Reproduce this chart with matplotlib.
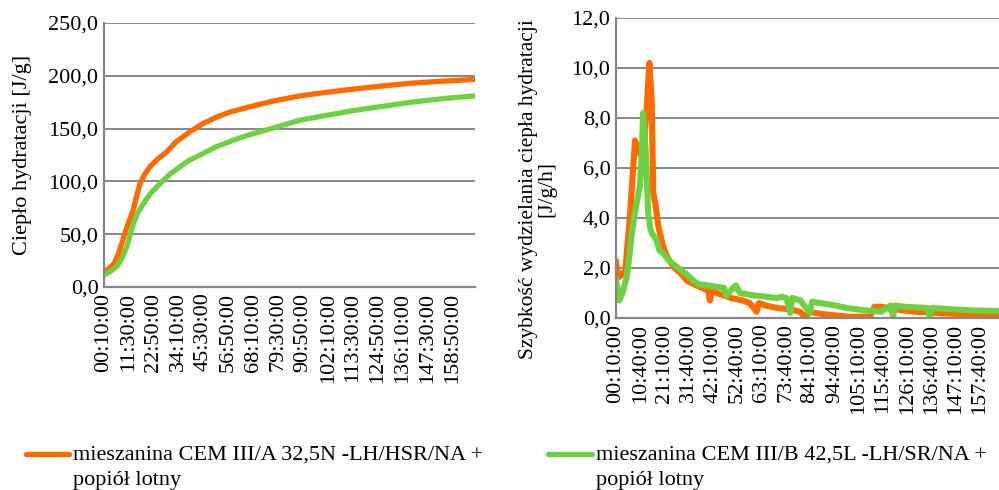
import matplotlib
matplotlib.use("Agg")
import matplotlib.pyplot as plt
from matplotlib.lines import Line2D
from matplotlib.ticker import FuncFormatter

plt.rcParams['font.family'] = ['Liberation Serif', 'DejaVu Serif']

ORANGE = '#FF6A00'
GREEN = '#6DD142'
GRID = '#878787'

label_a = "mieszanina CEM III/A 32,5N -LH/HSR/NA +\npopiół lotny"
label_b = "mieszanina CEM III/B 42,5L -LH/SR/NA +\npopiół lotny"

# Cumulative heat of hydration [J/g] vs time [h]
heat_t_a = [0.17, 2, 4, 5.2, 7, 8.5, 9.7, 11.5, 13.5, 15, 16.6, 18.5, 21.1, 24.5, 28.7, 33,
            39.3, 45, 51.5, 58, 66.6, 77, 89.4, 100, 112, 125, 140, 155, 169]
heat_a = [14.5, 17, 20.5, 24, 33, 43, 51, 62, 73, 86, 98, 106, 114, 121, 128, 137.5,
          147, 154.5, 161, 166, 170.7, 176, 181, 184, 187, 190, 193, 195, 196.6]
heat_t_b = [0.17, 3, 5.9, 8, 9.5, 10.5, 12, 13.5, 15.5, 18.1, 21.5, 25.7, 30, 34.8, 39,
            43.9, 51, 59, 66, 74, 82, 89.4, 100, 112, 125, 140, 155, 169]
heat_b = [11.4, 14.5, 19.2, 26, 33, 38, 49, 60, 70, 79, 89, 98, 106.5, 114, 120,
          125, 132.5, 139, 144, 148.7, 153.5, 158, 162, 166.5, 170.5, 175, 178.5, 181]

# Rate of heat release [J/g/h] vs time [h]
rate_t_a = [0.17, 0.8, 1.8, 3, 4.1, 5, 6.2, 7.3, 8.4, 9.1, 9.8, 11.3, 12.3, 13.4, 14.6, 15.6,
            16.3, 17.3, 18.5, 20.6, 22, 25, 28, 30.8, 35, 40, 40.8, 41.6, 43.7, 50, 55, 58, 61,
            62, 65, 70, 75, 79.8, 82.6, 83.4, 90, 101, 110, 112, 115, 120, 130, 140, 150, 160, 166]
rate_a = [2.25, 1.7, 1.65, 1.8, 1.8, 2.8, 4.05, 5.6, 7.1, 6.9, 6.7, 6.45, 7.0, 8.3, 10.2, 8.7,
          5.0, 4.5, 3.65, 2.85, 2.5, 2.05, 1.8, 1.5, 1.3, 1.1, 0.7, 1.1, 1.0, 0.8, 0.7, 0.6, 0.25,
          0.6, 0.5, 0.4, 0.35, 0.25, 0.0, 0.25, 0.15, 0.05, 0.05, 0.45, 0.45, 0.35, 0.25, 0.2,
          0.15, 0.1, 0.08]
rate_t_b = [0.17, 0.8, 1.6, 3, 4.8, 6, 7, 8, 9.1, 10.5, 11.3, 11.9, 12.5, 13, 14.1, 15, 15.6,
            17.8, 19, 20.6, 23, 26.4, 30, 33.6, 36, 43.7, 47, 48, 50.8, 52, 53.8, 60, 65, 69.7,
            72, 74, 75.5, 76.5, 80, 84, 85, 94, 100, 108.6, 115, 119, 120, 121, 125, 135, 136,
            137, 145, 155, 166]
rate_b = [1.5, 1.2, 0.7, 1.0, 1.65, 2.5, 3.4, 4.0, 4.6, 5.25, 6.5, 8.2, 7.5, 6.7, 4.2, 3.6, 3.4,
          3.1, 2.7, 2.6, 2.3, 2.05, 1.8, 1.5, 1.35, 1.25, 1.2, 0.9, 1.2, 1.3, 1.0, 0.9, 0.85, 0.8,
          0.85, 0.79, 0.2, 0.8, 0.7, 0.2, 0.65, 0.52, 0.4, 0.3, 0.25, 0.5, 0.05, 0.5, 0.45, 0.4,
          0.05, 0.4, 0.35, 0.3, 0.28]

# time tick labels (first sample at 00:10:00, step in minutes)
heat_tick_step = 680
rate_tick_step = 630
heat_tick_count = 15
rate_tick_count = 16


def hms(minutes):
    h, m = divmod(int(round(minutes)), 60)
    return f"{h:02d}:{m:02d}:00"


def comma(v, _):
    return f"{v:.1f}".replace('.', ',')


fig = plt.figure(figsize=(9.99, 4.90), dpi=100)
ax1 = fig.add_axes([104 / 999, 1 - 287 / 490, (475 - 104) / 999, (287 - 23) / 490])
ax2 = fig.add_axes([616 / 999, 1 - 318 / 490, (999 - 616) / 999, (318 - 18) / 490])

FS = 16
LW = 3.8

for ax in (ax1, ax2):
    for s in ('top', 'right'):
        ax.spines[s].set_visible(False)
    for s in ('left', 'bottom'):
        ax.spines[s].set_color(GRID)
        ax.spines[s].set_linewidth(1.6)
    ax.grid(axis='y', color=GRID, linewidth=1.4)
    ax.set_axisbelow(True)
    ax.tick_params(length=0, labelsize=FS, pad=4)
    ax.yaxis.set_major_formatter(FuncFormatter(comma))

# left: cumulative heat
ax1.plot(heat_t_a, heat_a, color=ORANGE, lw=LW, solid_capstyle='round', solid_joinstyle='round')
ax1.plot(heat_t_b, heat_b, color=GREEN, lw=LW, solid_capstyle='round', solid_joinstyle='round')
ax1.set_ylim(0, 250)
ax1.set_yticks(range(0, 251, 50))
ax1.set_xlim(1 / 6, 169)
t1 = [(10 + k * heat_tick_step) for k in range(heat_tick_count)]
ax1.set_xticks([t / 60 for t in t1])
ax1.set_xticklabels([hms(t) for t in t1], rotation=90)
ax1.set_ylabel("Ciepło hydratacji [J/g]", fontsize=FS, labelpad=12)

# right: rate of heat release
ax2.plot(rate_t_a, rate_a, color=ORANGE, lw=LW + 0.6, solid_joinstyle='round')
ax2.plot(rate_t_b, rate_b, color=GREEN, lw=LW + 0.6, solid_joinstyle='round')
ax2.set_ylim(0, 12)
ax2.set_yticks(range(0, 13, 2))
ax2.set_xlim(1 / 6, 165.9)
t2 = [(10 + k * rate_tick_step) for k in range(rate_tick_count)]
ax2.set_xticks([t / 60 for t in t2])
ax2.set_xticklabels([hms(t) for t in t2], rotation=90)
ax2.set_ylabel("Szybkość wydzielania ciepła hydratacji\n[J/g/h]", fontsize=15.5,
               linespacing=0.95)
ax2.yaxis.set_label_coords(-0.155, 0.43)

# legend drawn along the bottom edge
for x0, x1, tx, col, lab in ((26, 69, 73, ORANGE, label_a), (548, 592, 596, GREEN, label_b)):
    y = 1 - 454 / 490
    fig.add_artist(Line2D([x0 / 999, x1 / 999], [y, y], transform=fig.transFigure,
                          color=col, lw=LW, solid_capstyle='round'))
    fig.text(tx / 999, 1 - 446 / 490, lab, fontsize=FS, va='top', ha='left', linespacing=1.45)

fig.savefig("out.png", dpi=100)
